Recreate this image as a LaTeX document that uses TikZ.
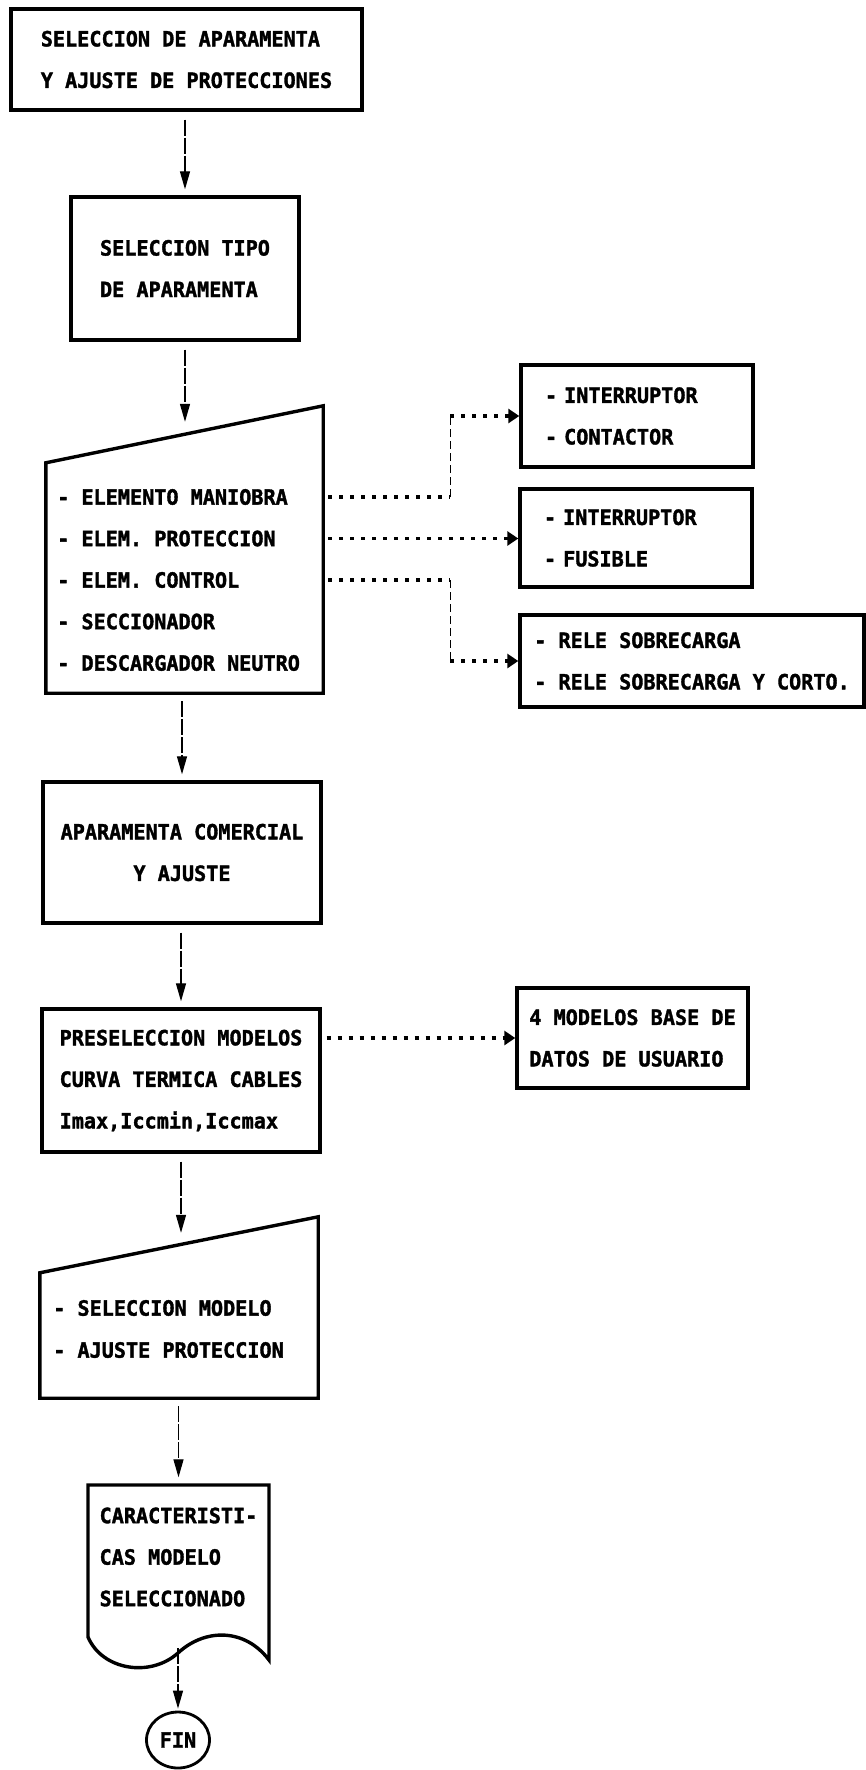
\documentclass[tikz,border=0pt]{standalone}
\usepackage{fontspec}
\setmonofont{DejaVu Sans Mono}[FakeStretch=0.96, BoldFeatures={FakeBold=1.6}]
\usepackage{tikz}
\usetikzlibrary{arrows.meta,calc,positioning,shapes.geometric}
\tikzset{
  chartfont/.style={font=\ttfamily\bfseries\fontsize{21}{41.5}\selectfont},
  procbox/.style={draw, line width=3.4pt, inner sep=0pt, align=center},
  leftbox/.style={draw, line width=3.4pt, inner sep=0pt, align=left},
  shapebody/.style={inner sep=0pt},
  outline/.style={line width=3.4pt, line join=miter},
  itemline/.style={anchor=west, inner sep=0pt, text height=15.3pt, text depth=0pt},
  flowarrow/.style={line width=1.3pt, dash pattern=on 16pt off 2pt, -{Triangle[length=18pt,width=10pt]}, shorten <=8pt, shorten >=6pt},
  linkdot/.style={line width=3.4pt, dash pattern=on 4pt off 7pt},
  linkthin/.style={line width=1.3pt, dash pattern=on 8pt off 4pt},
  linkarrow/.style={-{Triangle[length=11pt,width=14pt]}},
  endcircle/.style={draw, ellipse, line width=2.8pt, inner sep=0pt, minimum width=63pt, minimum height=56pt}
}

\begin{document}
\begin{tikzpicture}[x=1pt, y=-1pt, chartfont]
  \path[use as bounding box, fill=white] (0,0) rectangle (866,1770);
  \node[leftbox, minimum width=351pt, minimum height=101pt] (start) at (186.5,59.5) {SELECCION DE APARAMENTA\\Y AJUSTE DE PROTECCIONES};
  \node[leftbox, minimum width=228pt, minimum height=143pt] (typesel) at (185,268.5) {SELECCION TIPO\\DE APARAMENTA};
  \node[shapebody, minimum width=277pt, minimum height=287pt] (elements) at (184.5,549.5) {};
  \draw[outline] (elements.south west) -- (elements.south east) -- (elements.north east) -- ($(elements.north west)+(0,57)$) -- cycle;
  \coordinate (elementsin) at ($(elements.north)+(0,22)$);
  \foreach \txt [count=\i] in {ELEMENTO MANIOBRA, ELEM. PROTECCION, ELEM. CONTROL, SECCIONADOR, DESCARGADOR NEUTRO}
    \node[itemline] (el\i) at (57,455.5+41.5*\i) {- \txt};
  \node[leftbox, text width=184pt, inner xsep=24pt, minimum height=102pt] (manobox) at (637,416) {- INTERRUPTOR\\- CONTACTOR};
  \node[leftbox, text width=184pt, inner xsep=24pt, minimum height=98pt] (protbox) at (636,538) {- INTERRUPTOR\\- FUSIBLE};
  \node[leftbox, minimum width=344pt, minimum height=92pt] (ctrlbox) at (692,661) {- RELE SOBRECARGA\\- RELE SOBRECARGA Y CORTO.};
  \node[procbox, minimum width=278pt, minimum height=141pt] (commercial) at (182,852.5) {APARAMENTA COMERCIAL\\Y AJUSTE};
  \node[leftbox, minimum width=278pt, minimum height=143pt] (preselect) at (181,1080.5) {PRESELECCION MODELOS\\CURVA TERMICA CABLES\\Imax,Iccmin,Iccmax};
  \node[leftbox, minimum width=231pt, minimum height=100pt] (userdb) at (632.5,1038) {4 MODELOS BASE DE\\DATOS DE USUARIO};
  \node[shapebody, minimum width=278pt, minimum height=181pt] (modelsel) at (179,1307.5) {};
  \draw[outline] (modelsel.south west) -- (modelsel.south east) -- (modelsel.north east) -- ($(modelsel.north west)+(0,56)$) -- cycle;
  \coordinate (modelselin) at ($(modelsel.north)+(0,22)$);
  \node[itemline] (ms1) at (53,1308) {- SELECCION MODELO};
  \node[itemline] (ms2) at (53,1350) {- AJUSTE PROTECCION};
  \node[leftbox, draw=none, minimum width=181pt, minimum height=144pt] (result) at (178.5,1557) {CARACTERISTI-\\CAS MODELO\\SELECCIONADO};
  \draw[outline] (88,1637) -- (88,1485) -- (269,1485) -- (269,1660) .. controls (245,1628) and (205,1628) .. (178,1653) .. controls (150,1678) and (102,1670) .. cycle;
  \coordinate (resultout) at (178,1648);
  \node[endcircle] (fin) at (178,1740) {FIN};
  \draw[flowarrow] (typesel.north |- start.south) -- (typesel.north);
  \draw[flowarrow] (typesel.south) -- (typesel.south |- elementsin);
  \draw[flowarrow] (commercial.north |- elements.south) -- (commercial.north);
  \draw[flowarrow] (preselect.north |- commercial.south) -- (preselect.north);
  \draw[flowarrow] (preselect.south) -- (preselect.south |- modelselin);
  \draw[flowarrow] (result.north |- modelsel.south) -- (result.north);
  \draw[flowarrow, shorten <=0pt, shorten >=2pt] (resultout) -- (fin.north);
  \path (manobox.west) ++(-69,0) coordinate (manobend);
  \draw[linkdot, shorten <=5pt] (elements.east |- el1) -- (manobend |- el1);
  \draw[linkthin] (manobend |- el1) -- (manobend);
  \draw[linkdot, linkarrow] (manobend) -- (manobox.west);
  \draw[linkdot, linkarrow, shorten <=5pt] (elements.east |- el2) -- (protbox.west |- el2);
  \path (ctrlbox.west) ++(-68,0) coordinate (ctrlbend);
  \draw[linkdot, shorten <=5pt] (elements.east |- el3) -- (ctrlbend |- el3);
  \draw[linkthin] (ctrlbend |- el3) -- (ctrlbend);
  \draw[linkdot, linkarrow] (ctrlbend) -- (ctrlbox.west);
  \draw[linkdot, linkarrow, shorten <=5pt] (preselect.east |- userdb.west) -- (userdb.west);
\end{tikzpicture}
\end{document}
